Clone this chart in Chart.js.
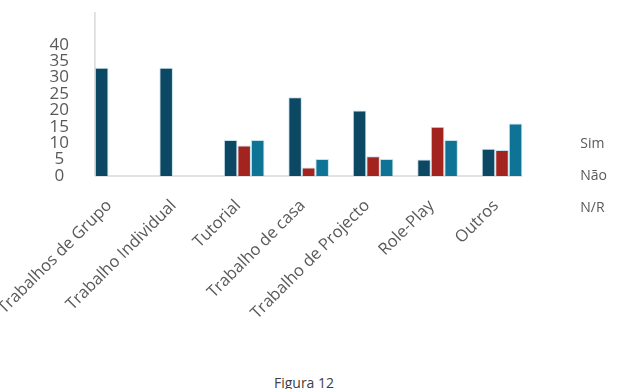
<!DOCTYPE html>
<html>
<head>
<meta charset="utf-8">
<script src="https://cdn.jsdelivr.net/npm/chart.js@4"></script>
<style>
    body{
        margin:0;
        background:#ffffff;
        width:622px;
        height:389px;
        overflow:hidden;
        position:relative;
        font-family:"Open Sans", sans-serif;
    }
    #wrap{
        position:absolute;
        left:0;
        top:0;
        width:622px;
        height:352px;
    }
    #caption{
        position:absolute;
        left:0;
        width:608px;
        top:375px;
        text-align:center;
        font-size:14px;
        line-height:16px;
        color:#404040;
    }
</style>
</head>
<body>

<div id="wrap">
    <canvas id="chartActividades"></canvas>
</div>

<div id="caption">Figura 12</div>

<script>

/*
==========================================
DATOS
==========================================
*/

const categorias = [
    "Trabalhos de Grupo",
    "Trabalho Individual",
    "Tutorial",
    "Trabalho de casa",
    "Trabalho de Projecto",
    "Role-Play",
    "Outros"
];

const valoresSim = [33, 33, 11, 24, 20, 5, 8.3];
const valoresNao = [0, 0, 9.3, 2.6, 6, 15, 7.9];
const valoresNR  = [0, 0, 11, 5.2, 5.2, 11, 16];

const ticksY = [0, 5, 10, 15, 20, 25, 30, 35, 40];

/*
==========================================
LINEAS DE EJE (desde la primera barra)
==========================================
*/

const ejesPlugin = {

    id:"ejes",

    beforeDatasetsDraw(chart){

        const ctx = chart.ctx;
        const area = chart.chartArea;

        const first = chart.getDatasetMeta(0).data[0];
        const last = chart.getDatasetMeta(2).data[categorias.length - 1];

        if(!first || !last) return;

        const x0 = first.x - first.width / 2;
        const x1 = last.x + last.width / 2;
        const y0 = chart.scales.y.getPixelForValue(0);

        ctx.save();
        ctx.strokeStyle = "#d9d9d9";
        ctx.lineWidth = 1.5;

        ctx.beginPath();
        ctx.moveTo(x0, area.top);
        ctx.lineTo(x0, y0);
        ctx.moveTo(x0, y0);
        ctx.lineTo(x1, y0);
        ctx.stroke();

        ctx.restore();

    }

};

/*
==========================================
GRAFICA
==========================================
*/

const canvas =
    document.getElementById(
        "chartActividades"
    );

const chartActividades =
    new Chart(
        canvas,
        {
            type:"bar",

            data:{

                labels:categorias,

                datasets:[
                    {
                        label:"Sim",
                        data:valoresSim,
                        backgroundColor:"#0c4763",
                        borderColor:"rgba(150,200,220,0.55)",
                        borderWidth:1
                    },
                    {
                        label:"Não",
                        data:valoresNao,
                        backgroundColor:"#a3231e",
                        borderColor:"rgba(150,200,220,0.55)",
                        borderWidth:1
                    },
                    {
                        label:"N/R",
                        data:valoresNR,
                        backgroundColor:"#0e7395",
                        borderColor:"rgba(150,200,220,0.55)",
                        borderWidth:1
                    }
                ]

            },

            options:{

                responsive:true,

                maintainAspectRatio:false,

                animation:false,

                layout:{
                    padding:{
                        top:12,
                        right:5,
                        left:0,
                        bottom:12
                    }
                },

                datasets:{
                    bar:{
                        categoryPercentage:0.63,
                        barPercentage:1
                    }
                },

                scales:{

                    x:{
                        offset:true,
                        grid:{
                            display:false,
                            drawTicks:false
                        },
                        border:{
                            display:false
                        },
                        ticks:{
                            color:"#595959",
                            font:{
                                family:"Open Sans",
                                size:16.5
                            },
                            minRotation:45,
                            maxRotation:45,
                            autoSkip:false,
                            padding:20,
                            labelOffset:-6
                        },
                        afterFit(scale){
                            scale.height = 164;
                            scale.paddingLeft = 0;
                            scale.paddingRight = 0;
                        }
                    },

                    y:{
                        min:0,
                        max:50,
                        grid:{
                            display:false,
                            drawTicks:false
                        },
                        border:{
                            display:false
                        },
                        afterBuildTicks(scale){
                            scale.ticks = ticksY.map(v => ({value:v}));
                        },
                        ticks:{
                            color:"#595959",
                            font:{
                                family:"Open Sans",
                                size:17
                            },
                            autoSkip:false,
                            crossAlign:"center",
                            padding:14
                        },
                        afterFit(scale){
                            scale.width = 83;
                            scale.paddingTop = 0;
                            scale.paddingBottom = 0;
                        }
                    }

                },

                plugins:{

                    legend:{
                        position:"right",
                        labels:{
                            boxWidth:21,
                            boxHeight:0,
                            padding:18,
                            color:"#595959",
                            font:{
                                family:"Open Sans",
                                size:14
                            },
                            generateLabels(chart){
                                const items =
                                    Chart.defaults.plugins.legend.labels.generateLabels(chart);
                                items.forEach(it => {
                                    it.fillStyle = "rgba(0,0,0,0)";
                                    it.strokeStyle = "rgba(0,0,0,0)";
                                    it.lineWidth = 0;
                                });
                                return items;
                            }
                        }
                    },

                    tooltip:{
                        enabled:false
                    }

                }

            },

            plugins:[ejesPlugin]

        }
    );

</script>
</body>
</html>
